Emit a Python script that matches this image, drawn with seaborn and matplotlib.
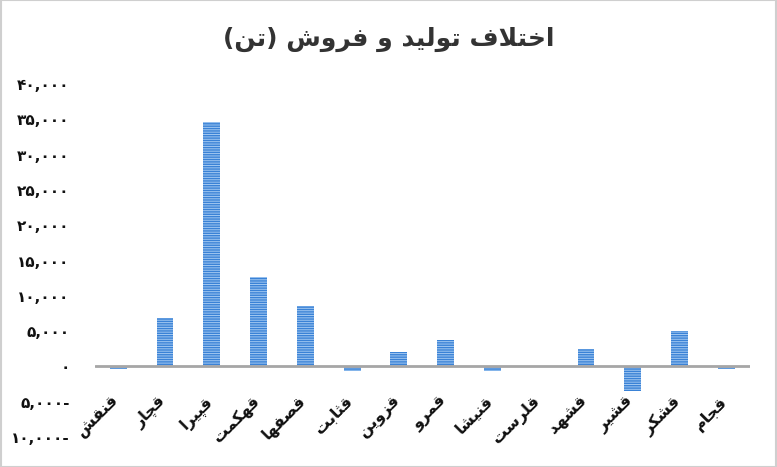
import matplotlib
matplotlib.use("Agg")
import matplotlib.pyplot as plt
import matplotlib.transforms as mtransforms
import seaborn as sns
from matplotlib.patches import Rectangle

categories = ["قنقش", "قچار", "قپیرا", "قهکمت", "قصفها", "قثابت", "قزوین",
              "قمرو", "قنیشا", "قلرست", "قشهد", "قشیر", "قشکر", "قجام"]
values = [-400, 6800, 34600, 12700, 8600, -600, 2100,
          3800, -600, 0, 2500, -3500, 5000, -300]
yticks = [-10000, -5000, 0, 5000, 10000, 15000, 20000, 25000, 30000, 35000, 40000]
title = "اختلاف تولید و فروش (تن)"

# --- minimal Arabic/Persian shaping (matplotlib does no shaping / bidi) ---
FORMS = {
    'ا': ('\uFE8D', '\uFE8E', None, None),
    'ب': ('\uFE8F', '\uFE90', '\uFE91', '\uFE92'),
    'ت': ('\uFE95', '\uFE96', '\uFE97', '\uFE98'),
    'ث': ('\uFE99', '\uFE9A', '\uFE9B', '\uFE9C'),
    'ج': ('\uFE9D', '\uFE9E', '\uFE9F', '\uFEA0'),
    'خ': ('\uFEA5', '\uFEA6', '\uFEA7', '\uFEA8'),
    'د': ('\uFEA9', '\uFEAA', None, None),
    'ر': ('\uFEAD', '\uFEAE', None, None),
    'ز': ('\uFEAF', '\uFEB0', None, None),
    'س': ('\uFEB1', '\uFEB2', '\uFEB3', '\uFEB4'),
    'ش': ('\uFEB5', '\uFEB6', '\uFEB7', '\uFEB8'),
    'ص': ('\uFEB9', '\uFEBA', '\uFEBB', '\uFEBC'),
    'ف': ('\uFED1', '\uFED2', '\uFED3', '\uFED4'),
    'ق': ('\uFED5', '\uFED6', '\uFED7', '\uFED8'),
    'ل': ('\uFEDD', '\uFEDE', '\uFEDF', '\uFEE0'),
    'م': ('\uFEE1', '\uFEE2', '\uFEE3', '\uFEE4'),
    'ن': ('\uFEE5', '\uFEE6', '\uFEE7', '\uFEE8'),
    'ه': ('\uFEE9', '\uFEEA', '\uFEEB', '\uFEEC'),
    'و': ('\uFEED', '\uFEEE', None, None),
    'پ': ('\uFB56', '\uFB57', '\uFB58', '\uFB59'),
    'چ': ('\uFB7A', '\uFB7B', '\uFB7C', '\uFB7D'),
    'ک': ('\uFB8E', '\uFB8F', '\uFB90', '\uFB91'),
    'ی': ('\uFBFC', '\uFBFD', '\uFBFE', '\uFBFF'),
}
MIRROR = {'(': ')', ')': '('}


def dual(c):
    return c in FORMS and FORMS[c][2] is not None


def shape(text):
    out = []
    i = 0
    n = len(text)
    while i < n:
        c = text[i]
        prev = text[i - 1] if i > 0 else ''
        joins_prev = dual(prev)
        if c == 'ل' and i + 1 < n and text[i + 1] == 'ا':
            out.append('\uFEFC' if joins_prev else '\uFEFB')
            i += 2
            continue
        if c in FORMS:
            nxt = text[i + 1] if i + 1 < n else ''
            joins_next = dual(c) and nxt in FORMS
            iso, fin, ini, med = FORMS[c]
            if joins_prev and joins_next:
                out.append(med)
            elif joins_prev:
                out.append(fin)
            elif joins_next:
                out.append(ini)
            else:
                out.append(iso)
        else:
            out.append(MIRROR.get(c, c))
        i += 1
    return ''.join(reversed(out))


PDIG = str.maketrans("0123456789", "۰۱۲۳۴۵۶۷۸۹")


def fa_num(v):
    s = format(abs(int(v)), ',').translate(PDIG)
    return s + '-' if v < 0 else s


sns.set_theme(style="white")
plt.rcParams['font.family'] = ['DejaVu Sans']
plt.rcParams['hatch.linewidth'] = 0.7

fig = plt.figure(figsize=(7.77, 4.67), dpi=100)
ax = fig.add_axes([0.122, 0.0642, 0.843, 0.7558])

shaped_cats = [shape(c) for c in categories]
sns.barplot(x=shaped_cats, y=values, color="#3a82d6", saturation=1,
            width=0.36, ax=ax)
for p in ax.patches:
    p.set_hatch('-------')
    p.set_edgecolor('#a3c9f2')
    p.set_linewidth(0)

ax.set_ylim(-10000, 40000)
ax.set_xlim(-0.5, len(categories) - 0.5)
ax.set_yticks(yticks)
ax.set_yticklabels([fa_num(v) for v in yticks], fontsize=11, fontweight='bold',
                   color='#111111')
ax.tick_params(axis='y', length=0, pad=18)
ax.set_xticks([])

# category labels next to the zero line (Excel "next to axis")
offset = mtransforms.ScaledTranslation(-7 / 100, -27 / 100, fig.dpi_scale_trans)
for i, lab in enumerate(shaped_cats):
    ax.text(i, 0, lab, rotation=45, ha='right', va='top', rotation_mode='anchor',
            fontsize=11.5, fontweight='bold', color='#111111',
            transform=ax.transData + offset)

for s in ax.spines.values():
    s.set_visible(False)
ax.axhline(0, color='#a6a6a6', lw=2, zorder=3)
ax.set_xlabel('')
ax.set_ylabel('')

fig.text(0.5, 0.915, shape(title), ha='center', va='center', fontsize=18,
         fontweight='bold', color='#333333')

fig.patches.append(Rectangle((0.001, 0.001), 0.998, 0.998, transform=fig.transFigure,
                             fill=False, edgecolor='#cfcfcf', lw=1.5))

fig.savefig("out.png", dpi=100)
